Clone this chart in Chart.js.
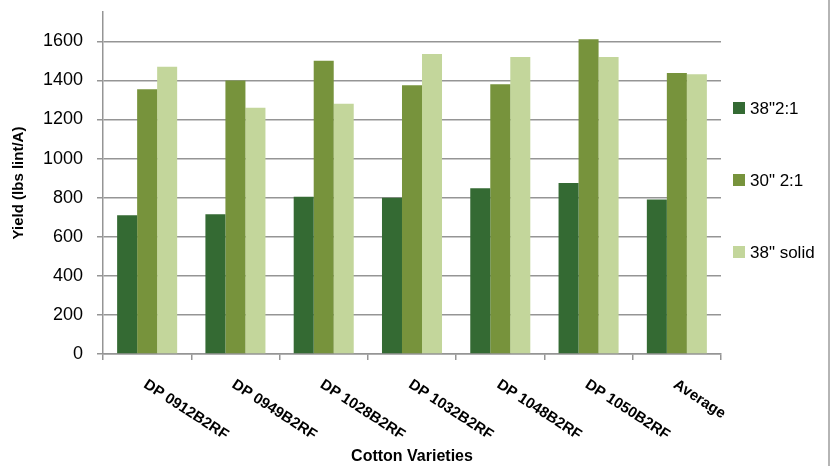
<!DOCTYPE html>
<html>
<head>
<meta charset="utf-8">
<script src="https://cdn.jsdelivr.net/npm/chart.js@4"></script>
<style>
  body { margin: 0; background: #fff; }
  #wrap { width: 836px; height: 466px; position: relative; }
</style>
</head>
<body>
<div id="wrap"><canvas id="yieldChart"></canvas></div>
<script>
// cotton yield by variety and row spacing
const varieties = ["DP 0912B2RF", "DP 0949B2RF", "DP 1028B2RF", "DP 1032B2RF", "DP 1048B2RF", "DP 1050B2RF", "Average"];
const seriesNames = ['38"2:1', '30" 2:1', '38" solid'];
const rows38twin = [710, 715, 805, 800, 848, 875, 790];
const rows30twin = [1355, 1400, 1500, 1375, 1380, 1610, 1438];
const rows38solid = [1470, 1260, 1280, 1535, 1520, 1520, 1432];
const yTicks = [0, 200, 400, 600, 800, 1000, 1200, 1400, 1600];
const barColors = ["#346a33", "#77933c", "#c3d69b"];

const gridGray = "#959595";
const font = "'Liberation Sans', Arial, sans-serif";

// slanted category names + right side legend
const extras = {
  id: "extras",
  afterDraw(chart) {
    const ctx = chart.ctx;
    const xs = chart.scales.x;
    ctx.save();
    ctx.fillStyle = "#000";
    ctx.font = "bold 15px " + font;
    ctx.textAlign = "left";
    ctx.textBaseline = "top";
    varieties.forEach((v, i) => {
      const x = xs.getPixelForValue(i);
      ctx.save();
      ctx.translate(x + 2, xs.top + 23);
      ctx.rotate(33 * Math.PI / 180);
      ctx.fillText(v, 0, 0);
      ctx.restore();
    });

    // legend
    const rowsY = [108, 180, 252];
    ctx.font = "17px " + font;
    ctx.textBaseline = "middle";
    chart.data.datasets.forEach((ds, i) => {
      ctx.fillStyle = ds.backgroundColor;
      ctx.fillRect(733, rowsY[i] - 6, 12, 12);
      ctx.fillStyle = "#000";
      ctx.fillText(ds.label, 750, rowsY[i] + 1);
    });

    // frame edge on the right
    ctx.strokeStyle = "#b5b5b5";
    ctx.lineWidth = 2;
    ctx.beginPath();
    ctx.moveTo(829, 0);
    ctx.lineTo(829, 466);
    ctx.stroke();
    ctx.restore();
  }
};

new Chart("yieldChart", {
  type: "bar",
  data: {
    labels: varieties,
    datasets: [
      { label: seriesNames[0], data: rows38twin, backgroundColor: barColors[0] },
      { label: seriesNames[1], data: rows30twin, backgroundColor: barColors[1] },
      { label: seriesNames[2], data: rows38solid, backgroundColor: barColors[2] }
    ]
  },
  options: {
    responsive: true,
    maintainAspectRatio: false,
    animation: false,
    layout: { padding: { top: 12, right: 115, bottom: 0, left: 0 } },
    datasets: { bar: { categoryPercentage: 0.68, barPercentage: 1.0, borderWidth: 0 } },
    plugins: {
      legend: { display: false },
      tooltip: { enabled: false }
    },
    scales: {
      x: {
        grid: { offset: true, drawOnChartArea: false, color: gridGray, lineWidth: 1.5, tickLength: 6 },
        border: { color: gridGray, width: 1.5 },
        ticks: { display: false },
        title: {
          display: true,
          text: "Cotton Varieties",
          color: "#000",
          font: { family: font, size: 16, weight: "bold" },
          padding: { top: 0, bottom: 0 }
        },
        afterFit(scale) {
          scale.height = 112;
          scale.paddingLeft = 0;
          scale.paddingRight = 0;
        }
      },
      y: {
        min: 0,
        max: 1750,
        afterBuildTicks(axis) {
          axis.ticks = yTicks.map(v => ({ value: v }));
        },
        grid: { color: gridGray, lineWidth: 1.5, tickLength: 6 },
        border: { color: gridGray, width: 1.5 },
        ticks: {
          color: "#000",
          font: { family: font, size: 18 },
          padding: 14,
          callback: v => String(v)
        },
        title: {
          display: true,
          text: "Yield (lbs lint/A)",
          color: "#000",
          font: { family: font, size: 15, weight: "bold" },
          padding: { top: 10, bottom: 0 }
        },
        afterFit(scale) {
          scale.width = 103;
          scale.paddingTop = 0;
          scale.paddingBottom = 0;
        }
      }
    }
  },
  plugins: [extras]
});
</script>
</body>
</html>
